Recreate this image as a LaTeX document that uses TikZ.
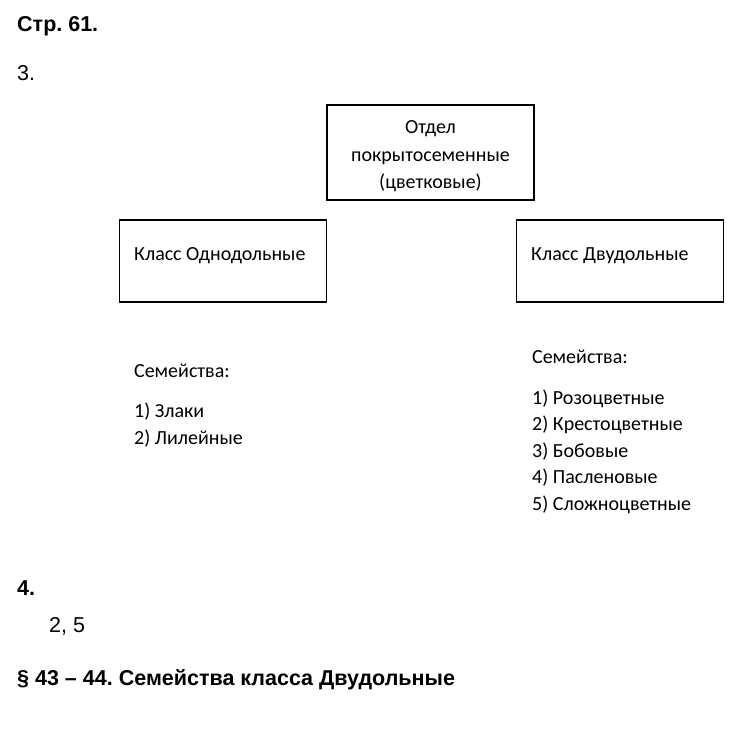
\documentclass[tikz,border=0pt]{standalone}
\usepackage{fontspec}
\setmainfont{Carlito}
\newfontfamily\arialfont{Liberation Sans}
\frenchspacing
\begin{document}
\begin{tikzpicture}[x=1pt,y=-1pt,
    box/.style={draw=black, line width=1.6pt, minimum width=207pt, minimum height=82pt, inner sep=0pt},
    txt/.style={font=\fontsize{20}{27}\selectfont, anchor=base west, inner sep=0pt},
    head/.style={font=\arialfont\bfseries\fontsize{21.5}{25}\selectfont, anchor=base west, inner sep=0pt},
    plain/.style={font=\arialfont\fontsize{21.5}{25}\selectfont, anchor=base west, inner sep=0pt}]
      \useasboundingbox[fill=white] (0,0) rectangle (736,741);
      % headings
      \node[head] (page) at (17,32) {Стр. 61.};
      \node[plain] (task3) at (17,81) {3.};
      % boxes
      \node[box, minimum height=95pt] (otdel) at (430.5,152.5) {};
      \node[box] (odno) at (223,261) {};
      \node[box] (dvu) at (620,261) {};
      \node[txt, anchor=base] (otdel1) at (430.5,134) {Отдел};
      \node[txt, anchor=base] (otdel2) at (430.5,161) {покрытосеменные};
      \node[txt, anchor=base] (otdel3) at (430.5,188) {(цветковые)};
      \node[txt] (odnoname) at (134,260) {Класс Однодольные};
      \node[txt] (dvuname) at (531,260) {Класс Двудольные};
      % families
      \node[txt] (odnofam) at (134,377) {Семейства:};
      \node[txt] (odno1) at (134,417) {1) Злаки};
      \node[txt] (odno2) at (134,444) {2) Лилейные};
      \node[txt] (dvufam) at (532,363) {Семейства:};
      \foreach \y/\name [count=\i] in {404/Розоцветные,430/Крестоцветные,457/Бобовые,483/Пасленовые,510/Сложноцветные}
        \node[txt] (dvu\i) at (532,\y) {\i) \name};
      % task 4
      \node[head] (task4) at (17,595) {4.};
      \node[plain] (answer) at (49,632) {2, 5};
      \node[head] (section) at (17,685) {§ 43 – 44. Семейства класса Двудольные};
    \end{tikzpicture}
\end{document}
